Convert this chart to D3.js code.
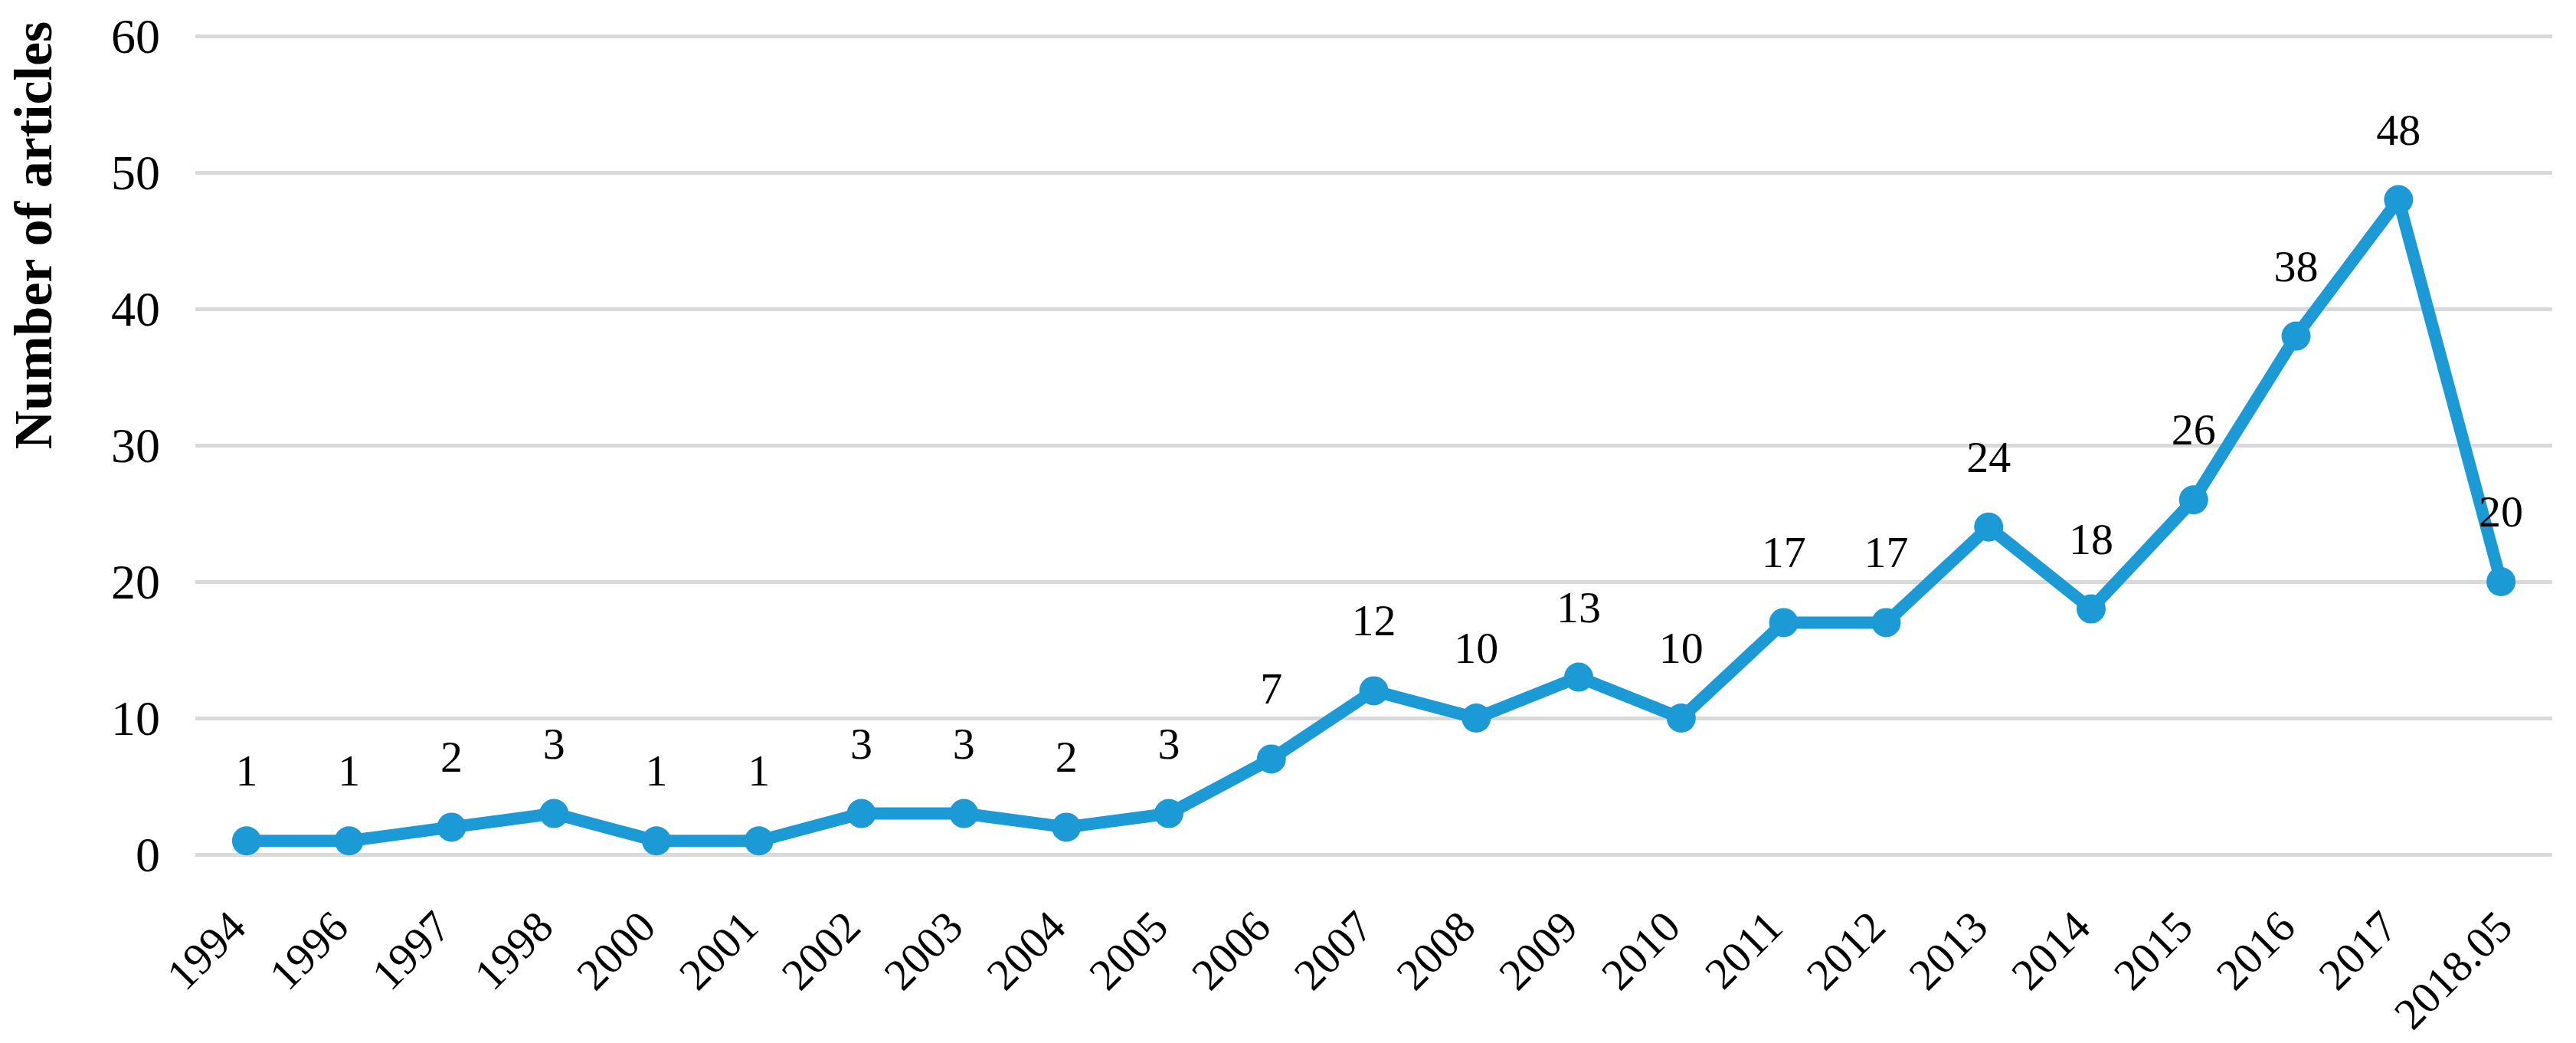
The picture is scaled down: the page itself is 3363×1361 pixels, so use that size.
<!DOCTYPE html>
<html>
<head>
<meta charset="utf-8">
<script src="https://cdn.jsdelivr.net/npm/d3@7"></script>
<style>
  body { margin: 0; background: #fff; }
  text { font-family: "Palatino Linotype", "Book Antiqua", Palatino, "Liberation Serif", serif; fill: #000; }
</style>
</head>
<body>
<svg id="chart"></svg>
<script>
// categories and values
const years = ["1994", "1996", "1997", "1998", "2000", "2001", "2002", "2003", "2004", "2005",
               "2006", "2007", "2008", "2009", "2010", "2011", "2012", "2013", "2014", "2015",
               "2016", "2017", "2018.05"];
const articles = [1, 1, 2, 3, 1, 1, 3, 3, 2, 3, 7, 12, 10, 13, 10, 17, 17, 24, 18, 26, 38, 48, 20];
const yTicks = [0, 10, 20, 30, 40, 50, 60];

const width = 3363, height = 1361;
const plotLeft = 255, plotRight = 3332, plotTop = 47, plotBottom = 1115;
const blue = "#1b9ad6";

const svg = d3.select("#chart")
    .attr("width", width)
    .attr("height", height);

const data = years.map((y, i) => ({ year: y, count: articles[i] }));

// x: one band per year, point in the middle
const x = d3.scaleBand()
    .domain(years)
    .range([plotLeft, plotRight])
    .padding(0);

const y = d3.scaleLinear()
    .domain([0, 60])
    .range([plotBottom, plotTop]);

const cx = d => x(d.year) + x.bandwidth() / 2;

// y axis with gridlines
const yAxis = svg.append("g")
    .attr("transform", `translate(${plotLeft},0)`)
    .call(d3.axisLeft(y).tickValues(yTicks).tickSize(-(plotRight - plotLeft)).tickPadding(46));
yAxis.select(".domain").remove();
yAxis.selectAll(".tick line")
    .attr("stroke", "#d9d9d9")
    .attr("stroke-width", 5);
yAxis.selectAll(".tick text")
    .attr("font-size", 64)
    .attr("dy", "0.34em");

// x axis labels, rotated
const xAxis = svg.append("g")
    .attr("transform", `translate(0,${plotBottom})`)
    .call(d3.axisBottom(x).tickSize(0).tickPadding(0));
xAxis.select(".domain").remove();
const xLabels = xAxis.selectAll(".tick text")
    .attr("font-size", 58)
    .attr("text-anchor", "end")
    .attr("dy", 0)
    .attr("y", 0);
// longer labels sit a little further right, like the original
const baseLen = xLabels.nodes()[0].getComputedTextLength();
xLabels.attr("transform", function() {
    const extra = (this.getComputedTextLength() - baseLen) * 0.22;
    return `translate(${2 + extra},98) rotate(-45)`;
});

// the line
const line = d3.line()
    .x(cx)
    .y(d => y(d.count));

svg.append("path")
    .datum(data)
    .attr("fill", "none")
    .attr("stroke", blue)
    .attr("stroke-width", 16)
    .attr("stroke-linejoin", "round")
    .attr("d", line);

// markers
svg.selectAll("circle.dot")
    .data(data)
    .enter()
    .append("circle")
    .attr("class", "dot")
    .attr("cx", cx)
    .attr("cy", d => y(d.count))
    .attr("r", 19)
    .attr("fill", blue);

// value labels above the points
svg.selectAll("text.val")
    .data(data)
    .enter()
    .append("text")
    .attr("class", "val")
    .attr("x", cx)
    .attr("y", d => y(d.count) - 72)
    .attr("text-anchor", "middle")
    .attr("font-size", 58)
    .text(d => d.count);

// y axis title
svg.append("text")
    .attr("transform", "translate(67,307) rotate(-90)")
    .attr("text-anchor", "middle")
    .attr("font-size", 70)
    .attr("font-weight", "bold")
    .text("Number of articles");
</script>
</body>
</html>
